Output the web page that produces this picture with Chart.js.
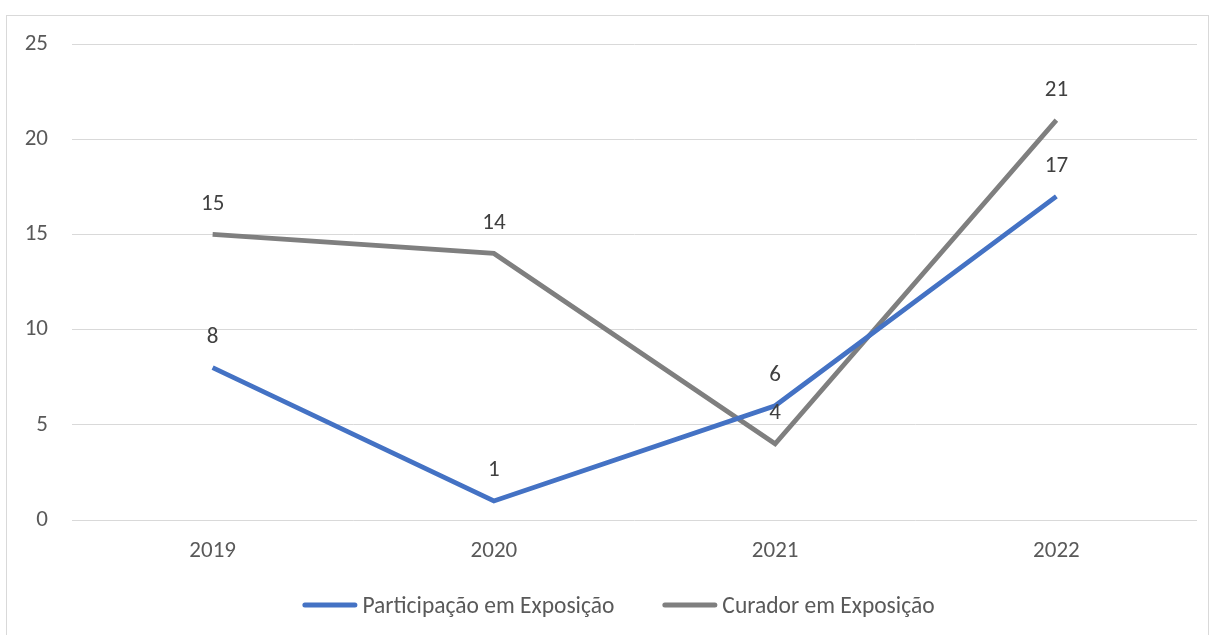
<!DOCTYPE html>
<html><head><meta charset="utf-8">
<script src="https://cdn.jsdelivr.net/npm/chart.js@4/dist/chart.umd.min.js"></script>
<style>
html,body{margin:0;padding:0;background:#fff;width:1215px;height:635px;overflow:hidden}
#frame{position:absolute;left:6px;top:15px;width:1203px;height:640px;border:1px solid #d9d9d9;box-sizing:border-box}
#wrap{position:absolute;left:0;top:0;width:1215px;height:635px}
</style></head>
<body>
<div id="frame"></div>
<div id="wrap"><canvas id="c" width="1215" height="635"></canvas></div>
<script>
const categories = ['2019','2020','2021','2022'];
const participacao = [8, 1, 6, 17];
const curador = [15, 14, 4, 21];
const seriesNames = ['Participação em Exposição','Curador em Exposição'];
const yTicks = [0,5,10,15,20,25];

const FONT = "Carlito, Calibri, 'Open Sans', sans-serif";
const FS = 23;
const LFS = 23.5;

const labelPlugin = {
  id:'dl',
  afterDatasetsDraw(chart){
    const ctx = chart.ctx;
    ctx.save();
    ctx.font = FS + "px " + FONT;
    ctx.fillStyle = '#404040';
    ctx.textAlign = 'center';
    ctx.textBaseline = 'alphabetic';
    chart.data.datasets.forEach((ds,i)=>{
      const meta = chart.getDatasetMeta(i);
      meta.data.forEach((pt,j)=>{
        ctx.fillText(String(ds.data[j]), pt.x, pt.y - 24.5);
      });
    });
    ctx.restore();
  }
};

const legendPlugin = {
  id:'customLegend',
  afterDraw(chart){
    const ctx = chart.ctx;
    ctx.save();
    ctx.font = LFS + "px " + FONT;
    const sw = 55, gap = 5, itemGap = 48;
    const ds = chart.data.datasets;
    const widths = ds.map(d => sw + gap + ctx.measureText(d.label).width);
    const total = widths.reduce((a,b)=>a+b,0) + itemGap*(ds.length-1);
    let x = 618.5 - total/2;
    const y = 605;
    ds.forEach((d,i)=>{
      ctx.strokeStyle = d.borderColor;
      ctx.lineWidth = 5;
      ctx.lineCap = 'round';
      ctx.beginPath();
      ctx.moveTo(x+2.5, y);
      ctx.lineTo(x+sw-2.5, y);
      ctx.stroke();
      ctx.fillStyle = '#595959';
      ctx.textAlign = 'left';
      ctx.textBaseline = 'alphabetic';
      ctx.fillText(d.label, x+sw+gap, y + 7.5);
      x += widths[i] + itemGap;
    });
    ctx.restore();
  }
};

new Chart(document.getElementById('c'), {
  type:'line',
  data:{
    labels:categories,
    datasets:[
      {label:seriesNames[0], data:participacao, borderColor:'#4472C4', backgroundColor:'#4472C4', borderWidth:4.75, pointRadius:0, tension:0},
      {label:seriesNames[1], data:curador, borderColor:'#7F7F7F', backgroundColor:'#7F7F7F', borderWidth:4.75, pointRadius:0, tension:0}
    ]
  },
  options:{
    responsive:false,
    animation:false,
    layout:{padding:{left:0,right:18,top:44,bottom:0}},
    plugins:{
      tooltip:{enabled:false},
      legend:{display:false}
    },
    scales:{
      x:{
        offset:true,
        grid:{display:false,drawTicks:false},
        border:{display:false},
        ticks:{font:{family:FONT,size:FS},color:'#595959',padding:17},
        afterFit(s){ s.height = 115; s.paddingLeft = 0; s.paddingRight = 0; }
      },
      y:{
        min:0,max:25,
        afterBuildTicks(s){ s.ticks = yTicks.map(v=>({value:v})); },
        grid:{color:'#d9d9d9',lineWidth:1,drawTicks:false},
        border:{display:false},
        ticks:{font:{family:FONT,size:FS},color:'#595959',padding:24},
        afterFit(s){ s.width = 72; s.paddingTop = 0; s.paddingBottom = 0; }
      }
    }
  },
  plugins:[labelPlugin, legendPlugin]
});
</script>
</body></html>
